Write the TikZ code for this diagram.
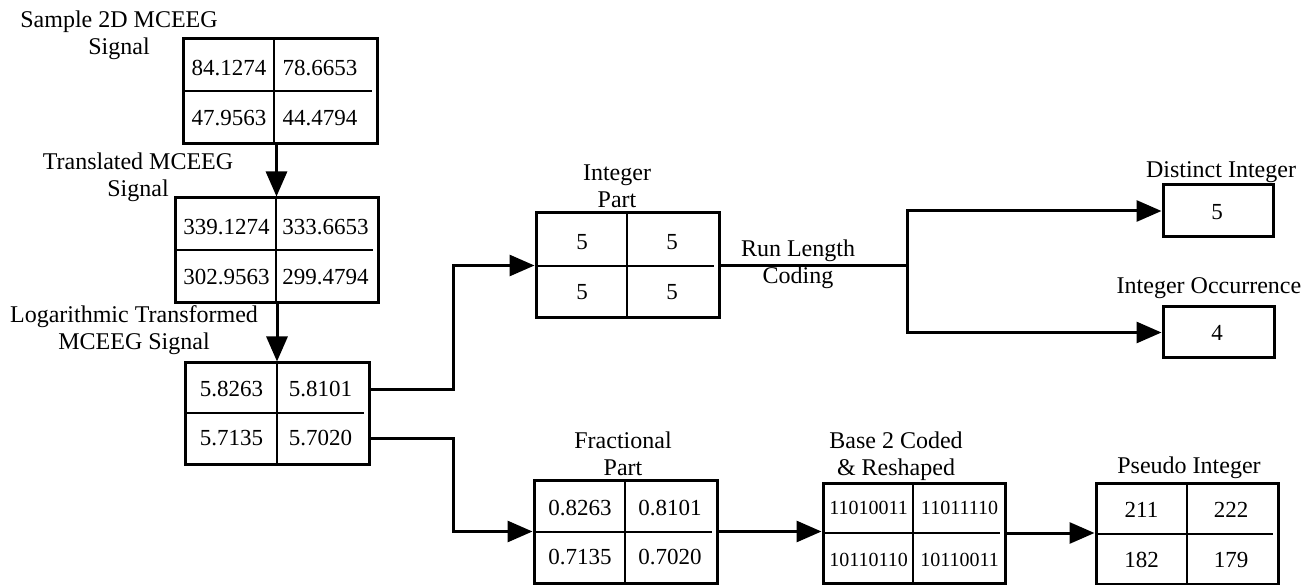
\documentclass[tikz,border=0pt]{standalone}
\usepackage{fontspec}
\setmainfont{Liberation Serif}
\usetikzlibrary{arrows.meta,fit}

\newcommand\capfont{\fontsize{24}{27}\selectfont}
\newcommand\numfont{\fontsize{23}{26}\selectfont}
\newcommand\bitfont{\fontsize{20}{24}\selectfont}

% 2x2 table: name, left, top, right, bottom, column split, row split
\newcommand\datagrid[7]{%
  \node[table, fit={(#2,#3) (#4,#5)}] (#1) {};
  \draw[rule] (#6,#3) -- (#6,#5);
  \draw[rule] (#2,#7) -- ({#4-5},#7);
}

\tikzset{
  table/.style={draw, line width=3pt, inner sep=0pt},
  rule/.style={line width=1.6pt},
  cell/.style={inner sep=0pt, font=\numfont},
  bits/.style={inner sep=0pt, font=\bitfont},
  caption/.style={align=center, inner sep=0pt, font=\capfont},
  link/.style={line width=3pt},
  flow/.style={link, -{Triangle[length=25pt,width=21pt]}},
}

\begin{document}
\begin{tikzpicture}[x=1pt,y=-1pt]
\fill[white] (0,0) rectangle (1315,585);
\useasboundingbox (0,0) rectangle (1315,585);

% ---- left column: signal, translated signal, log signal
\datagrid{s}{183}{39}{377}{144}{274}{91}
\node[cell] (s11) at (229,68) {84.1274};
\node[cell] (s12) at (320,68) {78.6653};
\node[cell] (s21) at (229,118) {47.9563};
\node[cell] (s22) at (320,118) {44.4794};
\node[caption] (scap) at (119,35) {Sample 2D MCEEG\\Signal};

\datagrid{t}{175}{198}{378}{303}{276}{250}
\node[cell] (t11) at (226.5,227) {339.1274};
\node[cell] (t12) at (325.5,227) {333.6653};
\node[cell] (t21) at (226.5,277) {302.9563};
\node[cell] (t22) at (325.5,277) {299.4794};
\node[caption] (tcap) at (138,177) {Translated MCEEG\\Signal};

\datagrid{l}{185}{363}{369}{464}{277}{413}
\node[cell] (l11) at (231.5,389) {5.8263};
\node[cell] (l12) at (320.5,389) {5.8101};
\node[cell] (l21) at (231.5,438) {5.7135};
\node[cell] (l22) at (320.5,438) {5.7020};
\node[caption] (lcap) at (134,330) {Logarithmic Transformed\\MCEEG Signal};

% ---- integer branch
\datagrid{ip}{536}{213}{719}{318}{627}{266}
\node[cell] (ip11) at (582,242) {5};
\node[cell] (ip12) at (672,242) {5};
\node[cell] (ip21) at (582,292) {5};
\node[cell] (ip22) at (672,292) {5};
\node[caption] (ipcap) at (617,186.5) {Integer\\Part};

\node[caption] (rlc) at (798,264) {Run Length\\Coding};

\node[table, fit={(1163,185) (1273,237)}] (di) {};
\node[cell] (di1) at (1217,212) {5};
\node[caption] (dicap) at (1221,172) {Distinct Integer};

\node[table, fit={(1163,307) (1274,358)}] (oc) {};
\node[cell] (oc1) at (1217,333) {4};
\node[caption] (occap) at (1209,288) {Integer Occurrence};

% ---- fractional branch
\datagrid{fp}{534}{480}{717}{583}{625}{532}
\node[cell] (fp11) at (580,508) {0.8263};
\node[cell] (fp12) at (670,508) {0.8101};
\node[cell] (fp21) at (580,557) {0.7135};
\node[cell] (fp22) at (670,557) {0.7020};
\node[caption] (fpcap) at (623,453.5) {Fractional\\Part};

\datagrid{bc}{823}{483}{1005}{583}{913}{533}
\node[bits] (bc11) at (868.5,508) {11010011};
\node[bits] (bc12) at (959.5,508) {11011110};
\node[bits] (bc21) at (868.5,560) {10110110};
\node[bits] (bc22) at (959.5,560) {10110011};
\node[caption] (bccap) at (896,456.5) {Base 2 Coded\\\& Reshaped};

\datagrid{pi}{1096}{483}{1278}{584}{1187}{534}
\node[cell] (pi11) at (1141.5,510) {211};
\node[cell] (pi12) at (1231,510) {222};
\node[cell] (pi21) at (1141.5,560) {182};
\node[cell] (pi22) at (1231,560) {179};
\node[caption] (picap) at (1189,468) {Pseudo Integer};

% ---- connectors
\coordinate (ja) at (453,0);
\coordinate (br) at (907,0);

\draw[flow] (s.south -| t.north) -- (t.north);
\draw[flow] (t.south -| l.north) -- (l.north);

\draw[flow] (l.east |- l12) -- (ja |- l12) -- (ja |- ip.west) -- (ip.west);
\draw[flow] (l.east |- l22) -- (ja |- l22) -- (ja |- fp.west) -- (fp.west);

\draw[link] (ip.east) -- (br |- ip.east);
\draw[link, line cap=rect] (br |- di.west) -- (br |- oc.west);
\draw[flow] (br |- di.west) -- (di.west);
\draw[flow] (br |- oc.west) -- (oc.west);

\draw[flow] (fp.east) -- (bc.west |- fp.east);
\draw[flow] (bc.east) -- (pi.west |- bc.east);
\end{tikzpicture}
\end{document}
